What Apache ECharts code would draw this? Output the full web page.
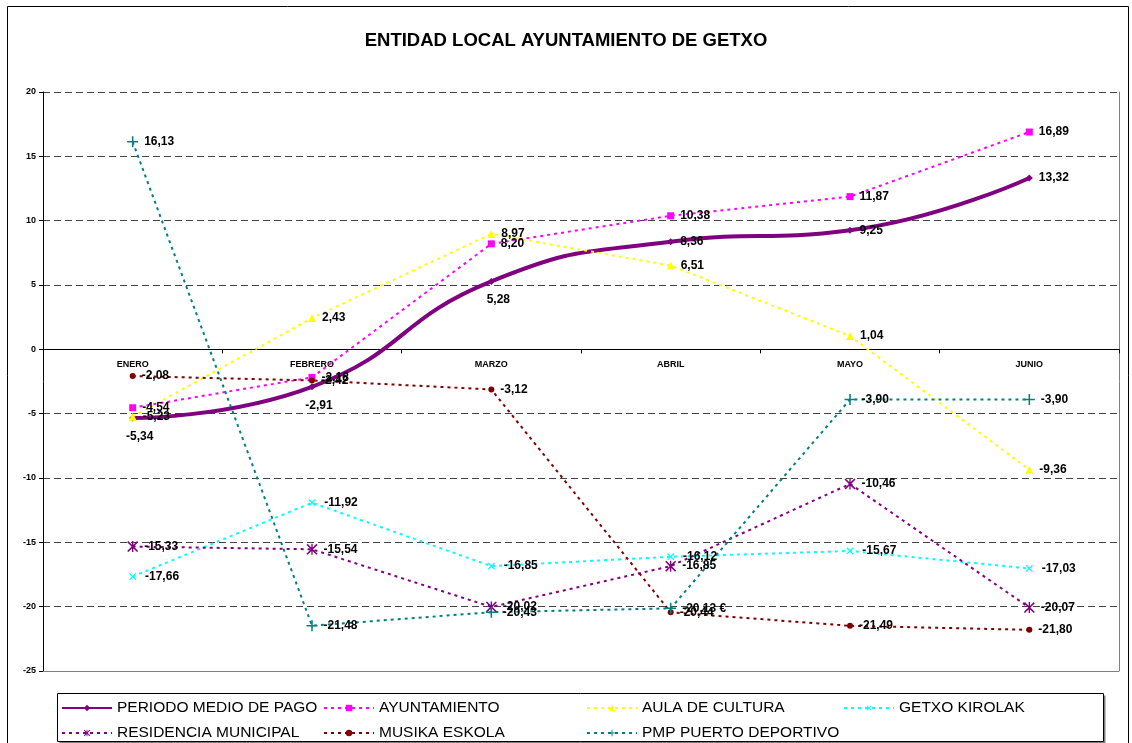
<!DOCTYPE html>
<html>
<head>
<meta charset="utf-8">
<title>ENTIDAD LOCAL AYUNTAMIENTO DE GETXO</title>
<script src="https://cdn.jsdelivr.net/npm/echarts@6/dist/echarts.min.js"></script>
<style>
	html, body { margin: 0; padding: 0; background: #fff; }
	#getxo-container { width: 1132px; height: 743px; }
</style>
</head>
<body>
<div id="getxo-container"></div>
<script>

var meses = ['ENERO', 'FEBRERO', 'MARZO', 'ABRIL', 'MAYO', 'JUNIO'];

var periodoMedio = [-5.34, -2.91, 5.28, 8.36, 9.25, 13.32];
var ayuntamiento = [-4.54, -2.18, 8.20, 10.38, 11.87, 16.89];
var aulaCultura = [-5.23, 2.43, 8.97, 6.51, 1.04, -9.36];
var getxoKirolak = [-17.66, -11.92, -16.85, -16.12, -15.67, -17.03];
var residencia = [-15.33, -15.54, -20.02, -16.85, -10.46, -20.07];
var musikaEskola = [-2.08, -2.42, -3.12, -20.44, -21.49, -21.80];
var puertoDeportivo = [16.13, -21.48, -20.43, -20.13, -3.90, -3.90];
// el punto de abril del puerto lleva el simbolo de euro en la etiqueta
var puertoSufijo = ['', '', '', ' €', '', ''];

var ejeY = { min: -25, max: 20, interval: 5 };

var fuente = 'Liberation Sans, Arial, sans-serif';

var simboloMas = 'path://M4.3,0H5.7V4.3H10V5.7H5.7V10H4.3V5.7H0V4.3H4.3Z';
var simboloAsterisco = 'path://M0,1L1,0L5,4L9,0L10,1L6,5L10,9L9,10L5,6L1,10L0,9L4,5Z M4.4,0H5.6V10H4.4Z';

function extender(a, b) {
	for (var k in b) { a[k] = b[k]; }
	return a;
}

function coma(v) {
	return v.toFixed(2).replace('.', ',');
}

function etiqueta(extra) {
	return extender({
		show: true,
		position: 'right',
		distance: 6,
		color: '#000',
		fontFamily: fuente,
		fontWeight: 'bold',
		fontSize: 12,
		formatter: function (p) { return coma(p.value); }
	}, extra || {});
}

function serieDiscontinua(nombre, datos, color, simbolo, tam, extra) {
	return extender({
		name: nombre,
		type: 'line',
		data: datos,
		symbol: simbolo,
		symbolSize: tam,
		itemStyle: { color: color },
		lineStyle: { color: color, width: 2, type: [3, 4] },
		label: etiqueta()
	}, extra || {});
}

function dibujar() {

	var myChart = echarts.init(document.getElementById('getxo-container'));

	var series = [
		{
			name: 'PERIODO MEDIO DE PAGO',
			type: 'line',
			smooth: true,
			data: periodoMedio.map(function (v, i) {
				return {
					value: v,
					label: i < 3 ? { position: 'bottom', distance: 9, offset: [7, 0] } : { position: 'right' }
				};
			}),
			symbol: 'diamond',
			symbolSize: 7,
			itemStyle: { color: '#800080' },
			lineStyle: { color: '#800080', width: 4 },
			label: etiqueta(),
			markLine: {
				silent: true,
				symbol: 'none',
				label: { show: false },
				lineStyle: { color: '#808080', type: 'solid', width: 1 },
				data: [{ yAxis: ejeY.min }]
			},
			z: 3
		},
		serieDiscontinua('AYUNTAMIENTO', ayuntamiento, '#FF00FF', 'rect', 7),
		serieDiscontinua('AULA DE CULTURA', aulaCultura, '#FFFF00', 'triangle', 8),
		serieDiscontinua('GETXO KIROLAK', getxoKirolak, '#00FFFF', simboloMas, 9, { symbolRotate: 45 }),
		serieDiscontinua('RESIDENCIA MUNICIPAL', residencia, '#800080', simboloAsterisco, 11),
		serieDiscontinua('MUSIKA ESKOLA', musikaEskola, '#800000', 'circle', 6),
		serieDiscontinua('PMP PUERTO DEPORTIVO', puertoDeportivo, '#008080', simboloMas, 11, {
			label: etiqueta({
				formatter: function (p) { return coma(p.value) + puertoSufijo[p.dataIndex]; }
			})
		})
	];

	// posiciones de la leyenda (dos filas, cuatro columnas)
	var colX = [61, 323, 586, 843];
	var filaY = [700, 725];
	var leyendas = series.map(function (s, i) {
		return {
			data: [s.name],
			left: colX[i % 4],
			top: filaY[Math.floor(i / 4)],
			padding: 0,
			itemWidth: 50,
			itemHeight: 8,
			itemGap: 0,
			textStyle: { color: '#000', fontFamily: fuente, fontSize: 15.5 },
			selectedMode: false
		};
	});

	var option = {
		animation: false,
		backgroundColor: '#fff',
		title: {
			text: 'ENTIDAD LOCAL AYUNTAMIENTO DE GETXO',
			left: 'center',
			top: 26,
			textStyle: { color: '#000', fontFamily: fuente, fontWeight: 'bold', fontSize: 18.5 }
		},
		legend: leyendas,
		graphic: [
			{
				type: 'rect',
				shape: { x: 7.5, y: 6.5, width: 1121, height: 800 },
				style: { fill: null, stroke: '#000', lineWidth: 1 },
				silent: true, z: -10
			},
			{
				type: 'rect',
				shape: { x: 59.5, y: 695.5, width: 1046, height: 48 },
				style: { fill: '#808080', stroke: null },
				silent: true, z: -9
			},
			{
				type: 'rect',
				shape: { x: 57.5, y: 693.5, width: 1046, height: 48 },
				style: { fill: '#fff', stroke: '#000', lineWidth: 1 },
				silent: true, z: -8
			}
		],
		grid: { left: 43, right: 13, top: 92, bottom: 72, containLabel: false },
		xAxis: {
			type: 'category',
			data: meses,
			boundaryGap: true,
			axisLine: { onZero: false, lineStyle: { color: '#000', width: 1 } },
			axisTick: { show: true, length: 4, lineStyle: { color: '#000' } },
			axisLabel: { color: '#000', fontFamily: fuente, fontWeight: 'bold', fontSize: 9, margin: 11 }
		},
		yAxis: [
			{
				type: 'value',
				min: ejeY.min,
				max: ejeY.max,
				interval: ejeY.interval,
				axisLine: { show: true, lineStyle: { color: '#000', width: 1 } },
				axisTick: { show: true, length: 4, lineStyle: { color: '#000' } },
				axisLabel: { color: '#000', fontFamily: fuente, fontWeight: 'bold', fontSize: 9, margin: 7 },
				splitLine: { show: true, lineStyle: { color: '#444', type: [7, 4], width: 1 } }
			},
			{
				type: 'value',
				position: 'right',
				min: ejeY.min,
				max: ejeY.max,
				interval: ejeY.interval,
				axisLine: { show: true, lineStyle: { color: '#808080', width: 1 } },
				axisTick: { show: false },
				axisLabel: { show: false },
				splitLine: { show: false }
			}
		],
		series: series
	};

	myChart.setOption(option);

	// el eje de categorias (con sus etiquetas) va sobre la linea del cero
	var yCero = myChart.convertToPixel({ yAxisIndex: 0 }, 0);
	var yBase = myChart.convertToPixel({ yAxisIndex: 0 }, ejeY.min);
	myChart.setOption({ xAxis: { offset: yCero - yBase } });
}

dibujar();
</script>
</body>
</html>
